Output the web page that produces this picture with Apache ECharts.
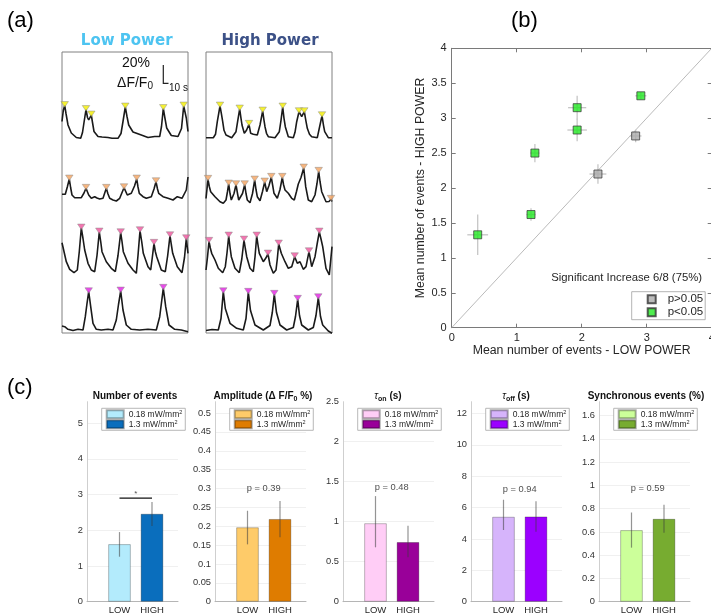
<!DOCTYPE html>
<html><head><meta charset="utf-8">
<script src="https://cdn.jsdelivr.net/npm/echarts@6/dist/echarts.min.js"></script>
<style>html,body{margin:0;padding:0;background:#fff}#c{width:711px;height:615px}</style>
</head><body><div id="c"></div>
<script>
// ================= Panel (a): example traces [time (a.u.), ΔF/F (%)] =================
const lowTrace1 = [[0,17],[1.3,28],[2.7,33],[4,25],[6,13.5],[9.3,5.5],[14.3,1],[18.7,0.2],[20.5,6],[22,16],[24,29],[25.5,21],[26.7,18.5],[29.3,23.5],[30.5,16],[32,7],[36,2],[40,1.5],[46,1],[50,0.3],[56,0.2],[59,5],[61,17],[63.3,31.5],[65,22],[66.7,13.5],[71,6.5],[79.3,3.5],[86,1],[92.7,2],[97.7,2],[99.5,12],[101.3,30],[103,20],[104.7,10.5],[109.3,3],[116,2],[119.5,10],[121.7,32.5],[124.3,20.5],[126,7]];
const highTrace1 = [[0,0.6],[7.3,0.6],[9.5,4],[11.3,16.6],[14,32.3],[15.5,24],[16.7,16.6],[18,8],[20,3.3],[25.7,0.6],[30,6.6],[31.8,18],[33.7,29.3],[35,20],[36,13.3],[38.3,5],[40.5,8],[43,14],[44.7,5],[47.3,4],[51.3,3.3],[54,13.3],[56.7,27.3],[58,18],[59,11.6],[60.5,5],[62.3,1.6],[69,0.6],[73.3,6.6],[75,18],[76.7,31.3],[78,20],[79.3,11.6],[82.3,1.6],[87.3,0.6],[89,6],[90.7,16.6],[93,26.6],[95.7,21.6],[98.3,26.6],[100,17],[101.3,10],[103.5,4],[105.7,1.6],[111.3,0.6],[114,13.3],[116,22.6],[117.5,13],[118.7,6.6],[122.3,0.6],[126,0.6]];
const lowTrace2 = [[0,6.7],[3.3,6.7],[5.3,14],[7.3,22],[8.7,13],[10,6],[12.7,3.3],[19.3,3.3],[22,8],[24,12.7],[26.7,6],[29.3,2.7],[32.7,4.3],[35,3],[37.7,2],[41,2.7],[44.3,12.7],[46,7],[47.7,2.7],[51,1],[54.3,0],[57.7,2.7],[62,13.3],[65.3,6],[69.3,7.7],[72.5,15],[74.7,22],[76,14],[77.3,7.7],[81,4.3],[84.3,2.7],[89.3,4.3],[92,12],[94,19.3],[95.5,12],[96.7,7.7],[101,4.3],[106,2.7],[111,1],[115.3,4.3],[120,2.7],[124.3,11],[126,24]];
const highTrace2 = [[0,5],[2,24.2],[3.3,17],[4.7,11.8],[9,6.8],[14,1.8],[17.3,0.2],[20,3.5],[21.5,12],[22.7,19.5],[24,10],[25.3,3.5],[28,10],[30,18.8],[31.5,10],[32.7,3.5],[36.5,10],[38.7,18.8],[40,10],[41.3,3.5],[44,0.8],[46.5,10],[48.7,23.5],[50,14],[51.3,6.8],[54,2.8],[56.5,12],[58.7,21.5],[60.7,11.8],[63,18],[65.3,26.2],[66.7,18],[68,10.2],[71.3,5.2],[74,14],[76.3,26.2],[77.5,19],[79,13.5],[82.3,10.2],[85.7,5.2],[88.3,3.5],[90.5,12],[92.3,19.5],[95,26],[97.7,35.5],[99.7,16.8],[102.3,3.5],[105.7,1.8],[109,8.5],[111,20],[112.7,32.2],[114,22],[115.7,11.8],[120,1.8],[123,2],[125,4.2],[126,2]];
const lowTrace3 = [[0,30.8],[4.3,11.8],[7.7,4.2],[12,0.8],[15.3,3.5],[17.3,22],[19.3,45.5],[21,35],[22.7,23.5],[26,10.2],[29.3,3.5],[32.7,1.8],[35,18],[37.3,41.5],[38.7,32],[40,21.8],[44.3,11.8],[49.3,5.2],[53.3,1.8],[56,18],[58.7,40.8],[60,32],[61.3,21.8],[66,10.2],[71,3.5],[74.3,0.2],[76,18],[78,42.8],[79.7,32],[81.3,20.2],[86,6.8],[88.7,3.5],[90.3,16],[92,30.2],[93.3,22],[94.7,16.8],[99.3,3.5],[103.3,1.8],[105.7,18],[108,37.8],[109.3,29],[110.7,20.2],[115.3,6.8],[120,0.8],[122.5,16],[124.3,34.8],[126,20.2]];
const highTrace3 = [[0,5],[1.5,18],[3,33.7],[4.3,27],[5.7,21.7],[9,15],[12.3,6.7],[16.7,2.3],[19.3,8.3],[21,22],[22.7,39],[24,28],[25.3,18.3],[29,6.7],[33.3,2.3],[35.8,16],[38,35],[39.4,26],[40.7,18.3],[44,6.7],[47.3,3.3],[49,18],[50.7,39],[52,30],[53.3,21.7],[57.3,13.3],[59.7,16.7],[62,21],[64,10],[67.3,1.7],[70,5],[71.3,16],[72.7,31],[75.3,21.7],[79,13.3],[82.3,6.7],[85.7,8.3],[88.7,18.3],[91.3,11.7],[94,13.3],[97.3,5.7],[100,8.3],[103,23.3],[105.7,8.3],[109,18.3],[111.3,32],[113.3,43],[115,36],[116.7,28.3],[120,6.7],[123.3,0],[126,28.3]];
const lowTrace4 = [[0,4.5],[2.7,3.8],[6,1.2],[11,0],[16,1.2],[21,0.5],[23.3,13.8],[25,27],[26.7,38.8],[28.7,23.8],[31,7.2],[34.3,1.2],[39.3,0.5],[46,1.2],[51,0.5],[54.3,10.5],[56.5,26],[58.7,39.5],[61,20.5],[64.3,5.5],[69.3,1.2],[77.7,0.5],[86,1.2],[94.3,0.5],[97.7,13.8],[99.5,28],[101.3,42.2],[103.7,23.8],[107,5.5],[112.7,1.2],[119.3,0.5],[126,-1.2]];
const highTrace4 = [[0,0],[6,1],[12.3,0.5],[15,12],[17.3,38.8],[19.3,22],[24,7.2],[30.7,2.2],[37.3,0.5],[40,12],[42.3,38.2],[44.5,20],[49,5.5],[57.3,0.5],[64,5],[66.3,18],[68.3,36.2],[70.5,18],[74,5.5],[80.7,0.5],[87.3,3],[89.5,14],[91.7,31.2],[93.5,15],[95.7,5.5],[102.3,0.5],[107.3,3],[110,15],[112.3,32.8],[114.5,14],[116.7,5.5],[122.3,-0.5],[126,-2.8]];
// detected event times (peaks)
const lowPeaks1 = [2.7,24,29.3,63.3,101.3,121.7];
const highPeaks1 = [14,33.7,43,56.7,76.7,93,98.3,116];
const lowPeaks2 = [7.3,24,44.3,62,74.7,94];
const highPeaks2 = [2,22.7,30,38.7,48.7,58.7,65.3,76.3,97.7,112.7,125];
const lowPeaks3 = [19.3,37.3,58.7,78,92,108,124.3];
const highPeaks3 = [3,22.7,38,50.7,62,72.7,88.7,103,113.3];
const lowPeaks4 = [26.7,58.7,101.3];
const highPeaks4 = [17.3,42.3,68.3,91.7,112.3];

// ================= Panel (b): mean number of events per cell =================
const sigLow = [0.40, 1.22, 1.28, 1.93, 1.93, 2.91];
const sigHigh = [1.33, 1.62, 2.50, 3.15, 2.83, 3.32];
const sigLowErr = [0.16, 0.07, 0.07, 0.14, 0.15, 0.085];
const sigHighErr = [0.29, 0.09, 0.13, 0.17, 0.16, 0.05];
const nsLow = [2.25, 2.83];
const nsHigh = [2.20, 2.745];
const nsLowErr = [0.13, 0.09];
const nsHighErr = [0.14, 0.09];
const diagonal = [[0,0],[4,4]];

// ================= Panel (c): bar summaries [LOW, HIGH] =================
const barCategories = ['LOW', 'HIGH'];
const numEvents = [1.61, 2.46], numEventsLo = [1.26, 2.12], numEventsHi = [1.95, 2.79];
const amplitude = [0.197, 0.219], amplitudeLo = [0.152, 0.171], amplitudeHi = [0.241, 0.267];
const tauOn = [0.98, 0.745], tauOnLo = [0.68, 0.556], tauOnHi = [1.32, 0.95];
const tauOff = [5.41, 5.43], tauOffLo = [4.57, 4.46], tauOffHi = [6.5, 6.41];
const syncEvents = [0.615, 0.712], syncEventsLo = [0.465, 0.594], syncEventsHi = [0.767, 0.833];
const pValues = [null, '0.39', '0.48', '0.94', '0.59'];
const pLabelY = [null, 0.299, 1.425, 7.18, 0.971];
const sigBarY = 2.9;
const yMaxes = [5.6, 0.53, 2.5, 12.75, 1.72];
const ySteps = [1, 0.05, 0.5, 2, 0.2];

// ================= build =================
const FONT = 'Liberation Sans, Arial, Helvetica, sans-serif';
const grids = [], xs = [], ys = [], series = [], legends = [], graphics = [];
function addGrid(g, xa, ya) {
  grids.push(Object.assign({outerBoundsMode: 'none'}, g));
  const gi = grids.length - 1;
  xa.gridIndex = gi; ya.gridIndex = gi;
  xs.push(xa); ys.push(ya);
  return [xs.length - 1, ys.length - 1];
}
const hid = (min, max) => ({type: 'value', min, max, show: false});

// ---- panel (a)
const BOX_LEFT = [62, 206];
const baselines = [[138.5, 201, 273.5, 330.5], [138.3, 203.5, 275, 330.5]];
const traceSets = [[lowTrace1, lowTrace2, lowTrace3, lowTrace4], [highTrace1, highTrace2, highTrace3, highTrace4]];
const peakSets = [[lowPeaks1, lowPeaks2, lowPeaks3, lowPeaks4], [highPeaks1, highPeaks2, highPeaks3, highPeaks4]];
const peakColors = ['#f2ee00', '#f4a25f', '#f0529c', '#e21ee2'];
for (let b = 0; b < 2; b++) {
  addGrid({left: BOX_LEFT[b], top: 52, width: 126, height: 281, show: true, borderColor: '#808080', borderWidth: 1, backgroundColor: 'transparent'}, hid(0, 126), hid(0, 1));
  for (let r = 0; r < 4; r++) {
    const base = baselines[b][r];
    const [xi, yi] = addGrid({left: BOX_LEFT[b], top: base - 50, width: 126, height: 56}, hid(0, 126), hid(-6, 50));
    const tr = traceSets[b][r];
    series.push({type: 'line', xAxisIndex: xi, yAxisIndex: yi, data: tr, symbol: 'none', silent: true,
      lineStyle: {color: '#1a1a1a', width: 1.6}, z: 2});
    series.push({type: 'scatter', xAxisIndex: xi, yAxisIndex: yi,
      data: peakSets[b][r].map(t => tr.find(p => p[0] === t)),
      symbol: 'triangle', symbolRotate: 180, symbolSize: [7.5, 5.5], symbolOffset: [0, -1.2], silent: true,
      itemStyle: {color: peakColors[r], borderColor: '#8c8c8c', borderWidth: 0.6}, z: 3});
  }
}

// ---- panel (b)
grids.push({left: 451.7, top: 48.3, width: 260, height: 279.4, outerBoundsMode: 'none'});
const gB = grids.length - 1;
const axCol = '#7a7a7a';
xs.push({type: 'value', gridIndex: gB, min: 0, max: 4, interval: 1, position: 'bottom',
  axisLine: {show: true, onZero: false, lineStyle: {color: axCol}}, axisTick: {show: true, inside: true, length: 4, lineStyle: {color: axCol}},
  axisLabel: {color: '#262626', fontSize: 11, margin: 5}, splitLine: {show: false},
  name: 'Mean number of events - LOW POWER', nameLocation: 'middle', nameGap: 16, nameTextStyle: {fontSize: 12.3, color: '#262626'}});
const xbB = xs.length - 1;
xs.push({type: 'value', gridIndex: gB, min: 0, max: 4, interval: 1, position: 'top',
  axisLine: {show: true, onZero: false, lineStyle: {color: axCol}}, axisTick: {show: true, inside: true, length: 4, lineStyle: {color: axCol}},
  axisLabel: {show: false}, splitLine: {show: false}});
ys.push({type: 'value', gridIndex: gB, min: 0, max: 4, interval: 0.5, position: 'left',
  axisLine: {show: true, onZero: false, lineStyle: {color: axCol}}, axisTick: {show: true, inside: true, length: 4, lineStyle: {color: axCol}},
  axisLabel: {color: '#262626', fontSize: 11, margin: 5}, splitLine: {show: false},
  name: 'Mean number of events - HIGH POWER', nameLocation: 'middle', nameGap: 25, nameTextStyle: {fontSize: 12.3, color: '#262626'}});
const ybB = ys.length - 1;
ys.push({type: 'value', gridIndex: gB, min: 0, max: 4, interval: 0.5, position: 'right',
  axisLine: {show: true, onZero: false, lineStyle: {color: axCol}}, axisTick: {show: true, inside: true, length: 4, lineStyle: {color: axCol}},
  axisLabel: {show: false}, splitLine: {show: false}});

function crossErr(params, api) {
  const x = api.value(0), y = api.value(1), ex = api.value(2), ey = api.value(3);
  const a = api.coord([x - ex, y]), b = api.coord([x + ex, y]), c = api.coord([x, y - ey]), d = api.coord([x, y + ey]);
  const st = {stroke: '#c6c6c6', lineWidth: 1.3};
  return {type: 'group', children: [
    {type: 'line', shape: {x1: a[0], y1: a[1], x2: b[0], y2: b[1]}, style: st},
    {type: 'line', shape: {x1: c[0], y1: c[1], x2: d[0], y2: d[1]}, style: st}]};
}
series.push({type: 'line', xAxisIndex: xbB, yAxisIndex: ybB, data: diagonal, symbol: 'none', silent: true,
  lineStyle: {color: '#a8a8a8', width: 0.8}, z: 1});
series.push({type: 'custom', xAxisIndex: xbB, yAxisIndex: ybB, renderItem: crossErr, silent: true, z: 2,
  data: nsLow.map((x, i) => [x, nsHigh[i], nsLowErr[i], nsHighErr[i]]).concat(sigLow.map((x, i) => [x, sigHigh[i], sigLowErr[i], sigHighErr[i]]))});
series.push({type: 'scatter', name: 'p>0.05', xAxisIndex: xbB, yAxisIndex: ybB, symbol: 'rect', symbolSize: 8, z: 4,
  data: nsLow.map((x, i) => [x, nsHigh[i]]), itemStyle: {color: '#ababab', borderColor: '#333', borderWidth: 0.9}});
series.push({type: 'scatter', name: 'p<0.05', xAxisIndex: xbB, yAxisIndex: ybB, symbol: 'rect', symbolSize: 8, z: 4,
  data: sigLow.map((x, i) => [x, sigHigh[i]]), itemStyle: {color: '#22e822', borderColor: '#333', borderWidth: 0.9}});
legends.push({left: 631.7, top: 291.7, orient: 'vertical', data: ['p>0.05', 'p<0.05'], icon: 'rect', itemWidth: 8, itemHeight: 8,
  itemGap: 0, padding: [1, 2, 1, 15], backgroundColor: '#fff', borderColor: '#a0a0a0', borderWidth: 0.8, selectedMode: false,
  textStyle: {fontSize: 11.5, color: '#262626', lineHeight: 13, padding: [0, 0, 0, 7]}});

// ---- panel (c)
const barMeans = [numEvents, amplitude, tauOn, tauOff, syncEvents];
const barLo = [numEventsLo, amplitudeLo, tauOnLo, tauOffLo, syncEventsLo];
const barHi = [numEventsHi, amplitudeHi, tauOnHi, tauOffHi, syncEventsHi];
const lowColors = ['#b3ebfc', '#fecb69', '#ffcdf6', '#d6b4fb', '#ccff9a'];
const highColors = ['#0a6ebd', '#df7c00', '#990099', '#9b00ff', '#77ac30'];
function barErr(params, api) {
  const x = api.value(0), lo = api.value(1), hi = api.value(2);
  const p = api.coord([x, lo]), q = api.coord([x, hi]);
  return {type: 'line', shape: {x1: p[0], y1: p[1], x2: q[0], y2: q[1]}, style: {stroke: 'rgba(60,60,60,0.55)', lineWidth: 1.2}};
}
for (let i = 0; i < 5; i++) {
  const left = 87 + 128 * i;
  const aligned = Math.abs(yMaxes[i] / ySteps[i] - Math.round(yMaxes[i] / ySteps[i])) < 1e-6;
  const [xi, yi] = addGrid({left, top: 401.7, width: 91, height: 200},
    {type: 'value', min: 0, max: 2.8, interval: 1,
      axisLine: {show: true, lineStyle: {color: '#b5b5b5'}}, axisTick: {show: false}, splitLine: {show: false},
      axisLabel: {formatter: v => (v === 1 ? barCategories[0] : v === 2 ? barCategories[1] : ''), fontSize: 9.5, color: '#262626', margin: 4, showMaxLabel: false}},
    {type: 'value', min: 0, max: yMaxes[i], interval: ySteps[i],
      axisLine: {show: true, lineStyle: {color: '#cfcfcf'}}, axisTick: {show: false},
      splitLine: {show: true, showMaxLine: false, lineStyle: {color: '#ececec', width: 0.8}},
      axisLabel: {fontSize: 9.3, color: '#333', margin: 4, showMaxLabel: aligned}});
  series.push({type: 'bar', name: 'L' + i, xAxisIndex: xi, yAxisIndex: yi, data: [[1, barMeans[i][0]]], barWidth: 22.5, barGap: '-100%',
    itemStyle: {color: lowColors[i], borderColor: 'rgba(0,0,0,0.33)', borderWidth: 0.8}, silent: true, z: 2});
  series.push({type: 'bar', name: 'H' + i, xAxisIndex: xi, yAxisIndex: yi, data: [[2, barMeans[i][1]]], barWidth: 22.5, barGap: '-100%',
    itemStyle: {color: highColors[i], borderColor: 'rgba(0,0,0,0.33)', borderWidth: 0.8}, silent: true, z: 2});
  series.push({type: 'custom', xAxisIndex: xi, yAxisIndex: yi, renderItem: barErr, silent: true, z: 5,
    data: [[1, barLo[i][0], barHi[i][0]], [2, barLo[i][1], barHi[i][1]]]});
  if (pValues[i]) {
    series.push({type: 'scatter', xAxisIndex: xi, yAxisIndex: yi, data: [[1.5, pLabelY[i]]], symbolSize: 1, silent: true,
      itemStyle: {color: 'rgba(0,0,0,0)'}, label: {show: true, position: 'inside', formatter: 'p = ' + pValues[i], fontSize: 9.3, color: '#222'}});
  } else {
    series.push({type: 'line', xAxisIndex: xi, yAxisIndex: yi, data: [[1, sigBarY], [2, sigBarY]], symbol: 'none', silent: true,
      lineStyle: {color: '#111', width: 1.2}, z: 6});
    series.push({type: 'scatter', xAxisIndex: xi, yAxisIndex: yi, data: [[1.5, sigBarY]], symbolSize: 1, silent: true,
      itemStyle: {color: 'rgba(0,0,0,0)'}, label: {show: true, position: 'top', distance: 0, formatter: '*', fontSize: 8, color: '#222'}});
  }
  legends.push({left: 101.7 + 128 * i, top: 408.3, orient: 'vertical', data: ['L' + i, 'H' + i], icon: 'rect', itemWidth: 17, itemHeight: 8,
    itemGap: 0, padding: [1, 3, 1, 4], backgroundColor: '#fff', borderColor: '#a6a6a6', borderWidth: 0.8, selectedMode: false,
    formatter: n => (n[0] === 'L' ? '0.18 mW/mm{sup|2}' : '1.3 mW/mm{sup|2}'),
    textStyle: {fontSize: 8.5, color: '#262626', lineHeight: 10, rich: {sup: {fontSize: 5.5, lineHeight: 6, verticalAlign: 'top', color: '#262626'}}}});
}

// ---- annotations
function txt(text, x, y, o) {
  graphics.push({type: 'text', x, y, silent: true, style: Object.assign({text, fill: '#000', fontFamily: FONT, fontSize: 12, align: 'center', verticalAlign: 'middle'}, o || {})});
}
txt('(a)', 7, 21, {fontSize: 22, align: 'left'});
txt('(b)', 511, 21, {fontSize: 22, align: 'left'});
txt('(c)', 7, 388, {fontSize: 22, align: 'left'});
txt('Low Power', 126.7, 41, {fontFamily: 'DejaVu Sans', fontWeight: 'bold', fontSize: 15, fill: '#4dc4f1'});
txt('High Power', 270, 41, {fontFamily: 'DejaVu Sans', fontWeight: 'bold', fontSize: 15, fill: '#3c5187'});
txt('20%', 136, 63, {fontSize: 14, fill: '#111'});
txt('ΔF/F{sub|0}', 135, 83, {fontSize: 14, fill: '#111', lineHeight: 17, rich: {sub: {fontSize: 10, lineHeight: 10, verticalAlign: 'bottom', fill: '#111'}}});
txt('10 s', 169, 88, {fontSize: 10, fill: '#111', align: 'left'});
graphics.push({type: 'polyline', silent: true, shape: {points: [[163.3, 65], [163.3, 83.3], [168.5, 83.3]]}, style: {stroke: '#222', lineWidth: 1.2, fill: null}});
txt('Significant Increase 6/8 (75%)', 702, 278.3, {fontSize: 11.3, fill: '#262626', align: 'right'});
const titleX = [135, 263, 388, 516, 646];
const tb = {fontSize: 10, fontWeight: 'bold', fill: '#111'};
txt('Number of events', titleX[0], 396, tb);
txt('Amplitude (Δ F/F{sub|0} %)', titleX[1], 396, Object.assign({lineHeight: 13, rich: {sub: {fontSize: 7, fontWeight: 'bold', lineHeight: 8, verticalAlign: 'bottom', fill: '#111'}}}, tb));
txt('{tau|τ}{sub|on} (s)', titleX[2], 396, Object.assign({lineHeight: 13, rich: {tau: {fontSize: 10, fontStyle: 'italic', fill: '#111', lineHeight: 13}, sub: {fontSize: 7, fontWeight: 'bold', lineHeight: 8, verticalAlign: 'bottom', fill: '#111'}}}, tb));
txt('{tau|τ}{sub|off} (s)', titleX[3], 396, Object.assign({lineHeight: 13, rich: {tau: {fontSize: 10, fontStyle: 'italic', fill: '#111', lineHeight: 13}, sub: {fontSize: 7, fontWeight: 'bold', lineHeight: 8, verticalAlign: 'bottom', fill: '#111'}}}, tb));
txt('Synchronous events (%)', titleX[4], 396, tb);

const chart = echarts.init(document.getElementById('c'), null, {renderer: 'canvas'});
chart.setOption({
  animation: false,
  backgroundColor: '#fff',
  textStyle: {fontFamily: FONT},
  grid: grids, xAxis: xs, yAxis: ys, series, legend: legends,
  graphic: {elements: graphics}
});
</script></body></html>
